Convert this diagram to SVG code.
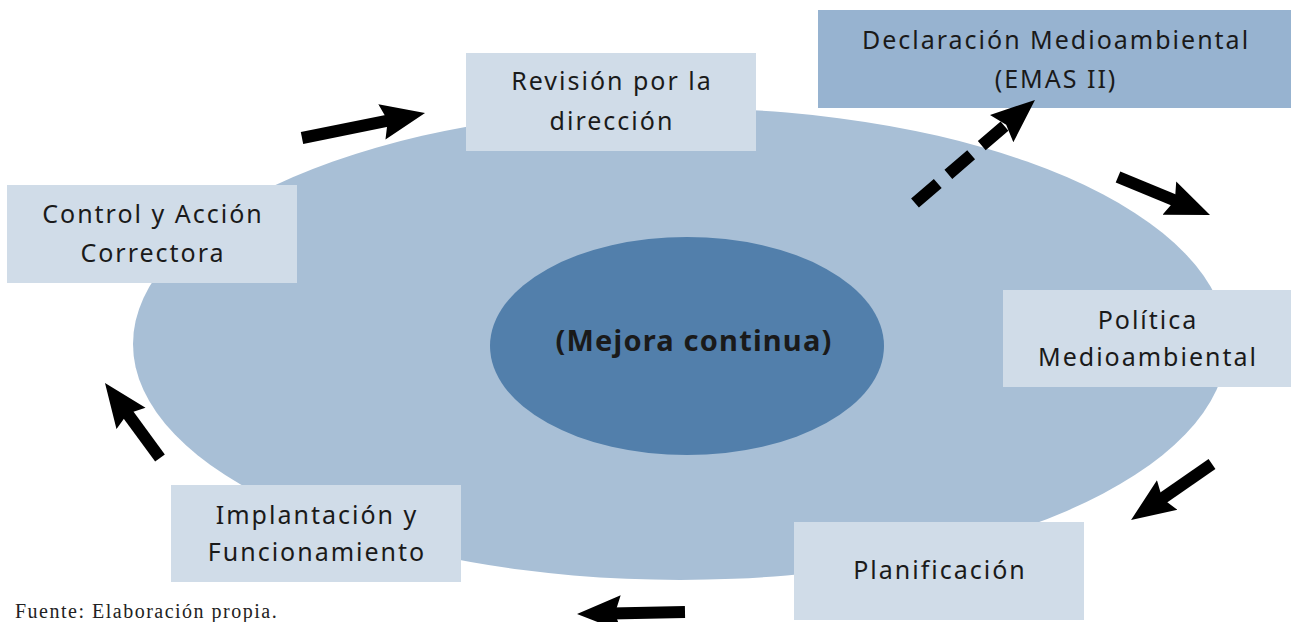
<svg xmlns="http://www.w3.org/2000/svg" width="1291" height="622" viewBox="0 0 1291 622">
<style>
.box{fill:#d0dce8}
.boxd{fill:#97b3d0}
.t{font-family:"Noto Sans","Open Sans",sans-serif;font-size:25px;fill:#1a1a1a;text-anchor:middle;letter-spacing:2px}
.c{stroke:#000;stroke-width:12;fill:none;marker-end:url(#ah)}
</style>
<defs>
<marker id="ah" markerUnits="userSpaceOnUse" markerWidth="46" markerHeight="40" refX="10" refY="19" orient="auto" viewBox="0 0 46 40">
<path d="M0,1 L44,19 L0,37 L6,19 z" fill="#000"/>
</marker>
</defs>
<rect width="1291" height="622" fill="#fff"/>
<g id="outer"><ellipse cx="680" cy="344" rx="547" ry="236" fill="#a8bfd6"/></g>
<g id="mejora"><ellipse cx="687" cy="346" rx="197" ry="109" fill="#527fab"/>
<text x="694" y="351" class="t" style="font-weight:bold;font-size:29px;letter-spacing:1.2px">(Mejora continua)</text></g>
<g id="revision"><rect x="466" y="53" width="290" height="98" class="box"/>
<text x="612" y="90" class="t">Revisión por la</text><text x="612" y="130" class="t">dirección</text></g>
<g id="declaracion"><rect x="818" y="10" width="473" height="98" class="boxd"/>
<text x="1056" y="49" class="t">Declaración Medioambiental</text><text x="1056" y="88" class="t">(EMAS II)</text></g>
<g id="control"><rect x="7" y="185" width="290" height="98" class="box"/>
<text x="153" y="223" class="t">Control y Acción</text><text x="153" y="262" class="t">Correctora</text></g>
<g id="politica"><rect x="1003" y="290" width="288" height="97" class="box"/>
<text x="1148" y="329" class="t">Política</text><text x="1148" y="366" class="t">Medioambiental</text></g>
<g id="planificacion"><rect x="794" y="522" width="290" height="98" class="box"/>
<text x="940" y="579" class="t">Planificación</text></g>
<g id="implantacion"><rect x="171" y="485" width="290" height="97" class="box"/>
<text x="317" y="524" class="t">Implantación y</text><text x="317" y="561" class="t">Funcionamiento</text></g>
<g id="connectors">
<line x1="302" y1="138" x2="391.7" y2="119.8" class="c"/>
<line x1="915" y1="203" x2="1009.2" y2="122.1" class="c" stroke-dasharray="30 14"/>
<line x1="1118" y1="177" x2="1178.6" y2="202" class="c"/>
<line x1="1212" y1="464" x2="1159" y2="500.7" class="c"/>
<line x1="685" y1="612" x2="611" y2="613.4" class="c"/>
<line x1="160" y1="458" x2="125.1" y2="410.4" class="c"/>
</g>
<text x="15" y="618" style="font-family:'Liberation Serif',serif;font-size:20px;fill:#222;letter-spacing:1.5px">Fuente: Elaboración propia.</text>
</svg>
